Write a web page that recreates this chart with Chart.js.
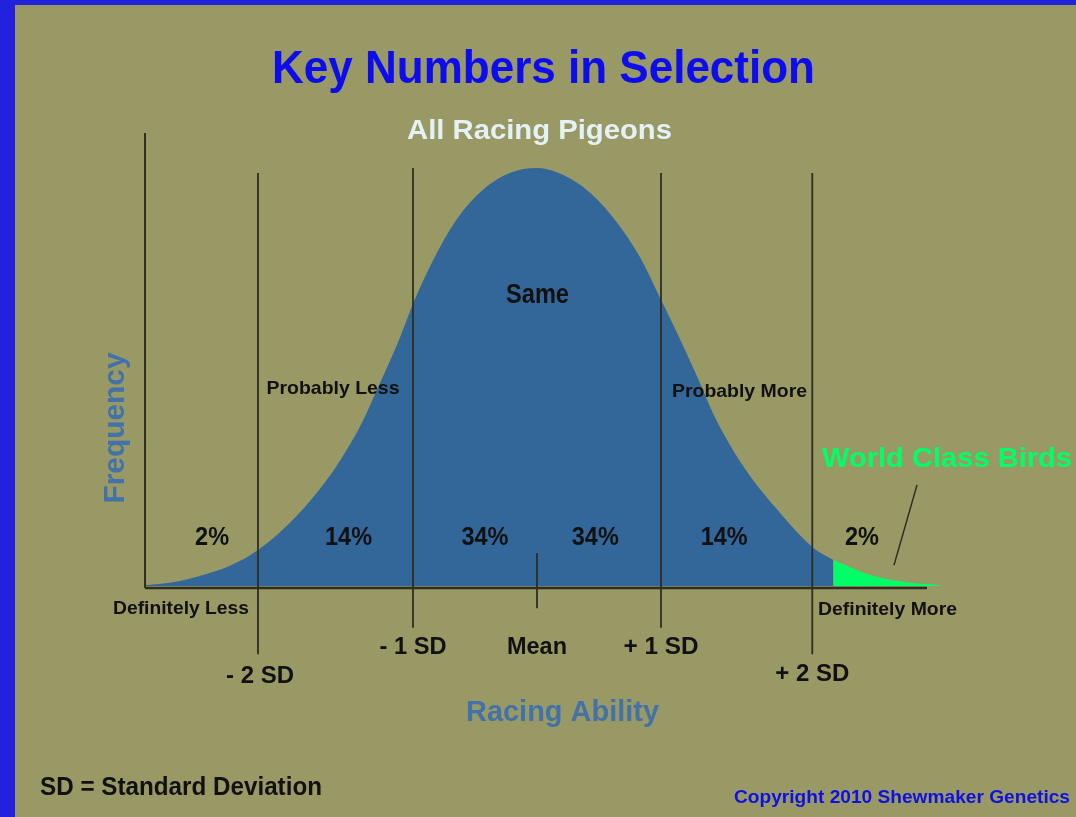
<!DOCTYPE html>
<html>
<head>
<meta charset="utf-8">
<title>Key Numbers in Selection</title>
<script src="https://cdn.jsdelivr.net/npm/chart.js@4"></script>
<style>
  html, body { margin: 0; padding: 0; background: #2222dd; overflow: hidden; }
  #wrap { width: 1076px; height: 817px; position: relative; }
</style>
</head>
<body>
<div id="wrap"><canvas id="chart"></canvas></div>
<script>
/* ---- Data (x in SD units, y = frequency, peak = 100) ---- */
const curveX = [-3.16, -2.90, -2.72, -2.48, -2.25, -1.94, -1.69, -1.53, -1.41, -1.32, -1.10, -1.00, -0.84, -0.65, -0.44, -0.22, 0,
                0.16, 0.37, 0.61, 0.83, 0.99, 1.15, 1.29, 1.45, 1.69, 1.94, 2.23, 2.39];
const curveY = [0.2, 1.1, 2.4, 4.8, 8.6, 16.7, 25.6, 32.8, 39.2, 45.0, 59.8, 67.5, 77.8, 87.6, 94.7, 98.8, 100,
                99.0, 95.5, 88.3, 78.7, 69.1, 59.3, 50.2, 39.5, 27.5, 18.2, 9.1, 6.2];
const tailX = [2.39, 2.66, 2.95, 3.25];
const tailY = [6.2, 2.9, 1.0, 0.2];

const sdLines = [-2.25, -1.0, 0, 1.0, 2.22];
const sdLabels = ['- 2 SD', '- 1 SD', 'Mean', '+ 1 SD', '+ 2 SD'];
const sdTop = [98.8, 100, 7.9, 98.8, 98.8];
const sdBottom = [-16.3, -10, -5.3, -10, -16.3];

const bandCenters = [-2.62, -1.52, -0.42, 0.47, 1.51, 2.62];
const bandLabels = ['2%', '14%', '34%', '34%', '14%', '2%'];

const BLUE_FILL = '#336699';
const GREEN = '#00ff66';
const LINE = '#2e2e22';
const FONT = '"Liberation Sans", Arial, Helvetica, sans-serif';

/* ---- helpers ---- */
function pts(xs, ys) { return xs.map((x, i) => ({ x: x, y: ys[i] })); }

function seg(x0, y0, x1, y1, width) {
    return {
        data: [{ x: x0, y: y0 }, { x: x1, y: y1 }],
        borderColor: LINE, borderWidth: width || 2, pointRadius: 0,
        fill: false, tension: 0, clip: false, order: 0
    };
}

// draw text centred at x, with baseline y, squeezed to the width seen in the picture
function label(ctx, text, x, y, size, width, color, rotate) {
    ctx.save();
    ctx.font = 'bold ' + size + 'px ' + FONT;
    const w = ctx.measureText(text).width;
    ctx.translate(x, y);
    if (rotate) ctx.rotate(rotate);
    if (width) ctx.scale(width / w, 1);
    ctx.textAlign = 'center';
    ctx.textBaseline = 'alphabetic';
    ctx.fillStyle = color || '#111';
    ctx.fillText(text, 0, 0);
    ctx.restore();
}

const backdrop = {
    id: 'backdrop',
    beforeDraw(chart) {
        const ctx = chart.ctx;
        ctx.save();
        ctx.fillStyle = '#2222dd';
        ctx.fillRect(0, 0, chart.width, chart.height);
        ctx.fillStyle = '#999966';
        ctx.fillRect(15, 5, chart.width - 15, chart.height - 5);
        ctx.restore();
    }
};

const texts = {
    id: 'texts',
    afterDraw(chart) {
        const ctx = chart.ctx;
        const xs = chart.scales.x;
        label(ctx, 'Key Numbers in Selection', 543.5, 83, 46, 543, '#0c0cee');
        label(ctx, 'All Racing Pigeons', 539.5, 139, 28, 265, '#e4f2f6');
        label(ctx, 'Same', 537.5, 303, 27, 63);
        label(ctx, 'Probably Less', 333, 394, 19, 133);
        label(ctx, 'Probably More', 739.5, 397, 19, 135);

        bandLabels.forEach((t, i) => {
            label(ctx, t, xs.getPixelForValue(bandCenters[i]), 545, 25, t.length === 2 ? 34 : 47);
        });

        label(ctx, 'Definitely Less', 181, 614, 18, 136);
        label(ctx, 'Definitely More', 887.5, 615, 18, 139);

        const sdBase = [683, 654, 654, 654, 681];
        const sdWidth = [68, 67, 60, 75, 74];
        sdLabels.forEach((t, i) => {
            label(ctx, t, xs.getPixelForValue(sdLines[i]) + (i === 0 ? 2 : 0), sdBase[i], 23, sdWidth[i]);
        });

        label(ctx, 'Racing Ability', 562.5, 721, 29, 193, '#4272a8');
        label(ctx, 'Frequency', 124, 428, 29, 151, '#4272a8', -Math.PI / 2);
        label(ctx, 'World Class Birds', 947, 467, 28, 250, GREEN);
        label(ctx, 'SD = Standard Deviation', 181, 795, 25, 282, '#111');
        label(ctx, 'Copyright 2010 Shewmaker Genetics', 902, 803, 18, 336, '#1010e0');
    }
};

/* ---- datasets ---- */
const datasets = [
    {
        data: pts(curveX, curveY),
        borderColor: BLUE_FILL, borderWidth: 0, backgroundColor: BLUE_FILL,
        fill: 'origin', pointRadius: 0, cubicInterpolationMode: 'monotone', order: 2
    },
    {
        data: pts(tailX, tailY),
        borderColor: GREEN, borderWidth: 0, backgroundColor: GREEN,
        fill: 'origin', pointRadius: 0, cubicInterpolationMode: 'monotone', order: 1
    },
    seg(-3.161, 108.4, -3.161, -0.5),     // frequency axis
    seg(-3.161, -0.5, 3.145, -0.5, 2.5),  // ability axis
    seg(3.065, 24.2, 2.879, 5.0, 1.5)     // pointer to the world class tail
];
sdLines.forEach((x, i) => datasets.push(seg(x, sdTop[i], x, sdBottom[i], 1.8)));

new Chart(document.getElementById('chart'), {
    type: 'line',
    data: { datasets: datasets },
    options: {
        responsive: true,
        maintainAspectRatio: false,
        animation: false,
        layout: { padding: { left: 140.2, right: 129.8, top: 134.56, bottom: 147.4 } },
        scales: {
            x: { type: 'linear', min: -3.2, max: 3.3, display: false },
            y: { type: 'linear', min: -20, max: 108, display: false }
        },
        plugins: {
            legend: { display: false },
            tooltip: { enabled: false }
        }
    },
    plugins: [backdrop, texts]
});
</script>
</body>
</html>
